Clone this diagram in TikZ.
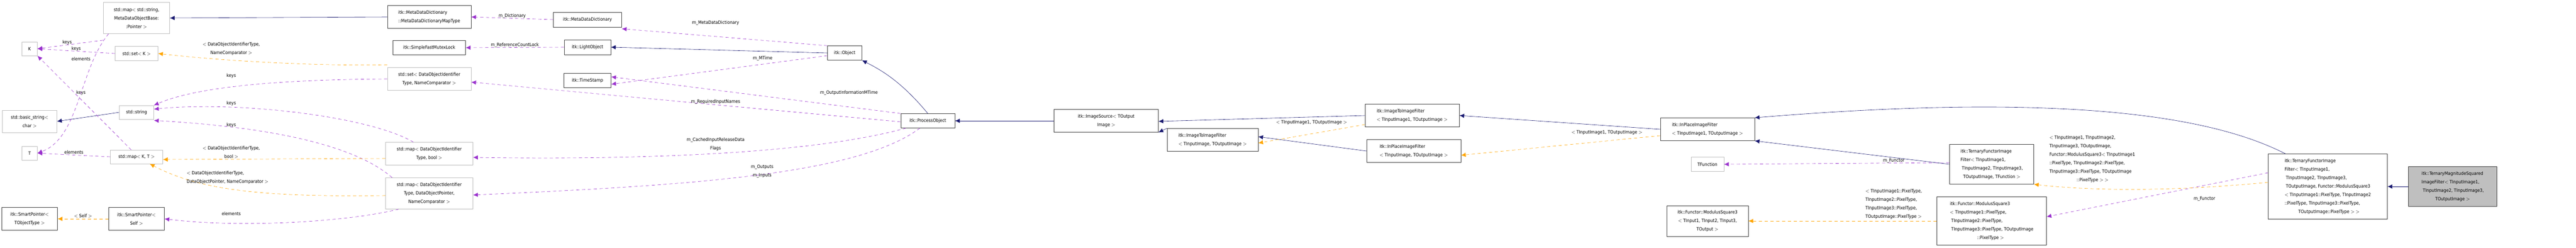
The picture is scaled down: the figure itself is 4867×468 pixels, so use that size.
\documentclass[tikz,border=0pt]{standalone}
\usepackage{fontspec}
\setmainfont{DejaVu Sans Condensed}
\usetikzlibrary{arrows.meta}
\definecolor{inherit}{HTML}{191970}
\definecolor{usage}{HTML}{9A32CD}
\definecolor{templ}{HTML}{FFA500}
\definecolor{grayline}{HTML}{BFBFBF}
\tikzset{
	cls/.style={draw=black!75, semithick, inner sep=0pt, font=\fontsize{8.6}{16}\selectfont},
	ext/.style={cls, draw=grayline},
	lbl/.style={inner sep=0pt, font=\fontsize{8.6}{16}\selectfont},
	base/.style={draw=inherit, semithick, -{Latex[length=9pt,width=8pt]}},
	uses/.style={draw=usage, semithick, dash pattern=on 6pt off 5pt, -{Latex[length=9pt,width=8pt]}},
	tmpl/.style={draw=templ, semithick, dash pattern=on 6pt off 5pt, -{Latex[length=9pt,width=8pt]}}
}
\begin{document}
\begin{tikzpicture}[x=1pt, y=-1pt]
	\useasboundingbox (0,0) rectangle (4867,468);

	% left column
	\node[ext, minimum width=29, minimum height=26] (K) at (56,92) {K};
	\node[ext, minimum width=103, minimum height=42, align=center] (basic) at (56,229) {std::basic\_string$<$\\char $>$};
	\node[ext, minimum width=29, minimum height=26] (T) at (56,289) {T};
	\node[cls, minimum width=105, minimum height=43, align=center] (spT) at (56,413) {itk::SmartPointer$<$\\TObjectType $>$};

	% std containers
	\node[ext, minimum width=125, minimum height=59, align=center] (mapSP) at (258,34) {std::map$<$ std::string,\\MetaDataObjectBase:\\:Pointer $>$};
	\node[ext, minimum width=81, minimum height=27] (setK) at (258,101) {std::set$<$ K $>$};
	\node[ext, minimum width=65, minimum height=26] (string) at (258,212) {std::string};
	\node[ext, minimum width=99, minimum height=26] (mapKT) at (258,296) {std::map$<$ K, T $>$};
	\node[cls, minimum width=105, minimum height=43, align=center] (spSelf) at (258,413) {itk::SmartPointer$<$\\Self $>$};

	\node[cls, minimum width=158, minimum height=43, align=left] (mddMap) at (811,32) {itk::MetaDataDictionary\\::MetaDataDictionaryMapType};
	\node[cls, minimum width=137, minimum height=27] (mutex) at (811,90) {itk::SimpleFastMutexLock};
	\node[ext, minimum width=158, minimum height=43, align=center] (setDOI) at (811,149) {std::set$<$ DataObjectIdentifier\\Type, NameComparator $>$};
	\node[ext, minimum width=165, minimum height=43, align=center] (mapBool) at (811,290) {std::map$<$ DataObjectIdentifier\\Type, bool $>$};
	\node[ext, minimum width=165, minimum height=59, align=center] (mapDOP) at (811,365) {std::map$<$ DataObjectIdentifier\\Type, DataObjectPointer,\\NameComparator $>$};

	\node[cls, minimum width=129, minimum height=28] (mdd) at (1110,37) {itk::MetaDataDictionary};
	\node[cls, minimum width=88, minimum height=28] (light) at (1110,89) {itk::LightObject};
	\node[cls, minimum width=89, minimum height=27] (stamp) at (1110,152) {itk::TimeStamp};

	% pipeline
	\node[cls, minimum width=65, minimum height=27] (object) at (1596,100) {itk::Object};
	\node[cls, minimum width=102, minimum height=27] (process) at (1753,228) {itk::ProcessObject};
	\node[cls, minimum width=197, minimum height=43, align=center] (source) at (2090,228) {itk::ImageSource$<$ TOutput\\Image $>$};
	\node[cls, minimum width=172, minimum height=43, align=left] (i2i) at (2291,264) {itk::ImageToImageFilter\\$<$ TInputImage, TOutputImage $>$};
	\node[cls, minimum width=178, minimum height=43, align=left] (i2iOne) at (2668,218) {itk::ImageToImageFilter\\$<$ TInputImage1, TOutputImage $>$};
	\node[cls, minimum width=178, minimum height=43, align=left] (inplace) at (2671,285) {itk::InPlaceImageFilter\\$<$ TInputImage, TOutputImage $>$};
	\node[cls, minimum width=178, minimum height=43, align=left] (inplaceOne) at (3226,244) {itk::InPlaceImageFilter\\$<$ TInputImage1, TOutputImage $>$};
	\node[ext, minimum width=62, minimum height=27] (tfunc) at (3226,310) {TFunction};
	\node[cls, minimum width=154, minimum height=58, align=center] (modsq) at (3226,417) {itk::Functor::ModulusSquare3\\$<$ TInput1, TInput2, TInput3,\\TOutput $>$};
	\node[cls, minimum width=159, minimum height=75, align=left] (ternary) at (3763,310) {itk::TernaryFunctorImage\\Filter$<$ TInputImage1,\\\ TInputImage2, TInputImage3,\\\ \ TOutputImage, TFunction $>$};
	\node[cls, minimum width=207, minimum height=91, align=left] (modsqPix) at (3763,417) {itk::Functor::ModulusSquare3\\$<$ TInputImage1::PixelType,\\\ TInputImage2::PixelType,\\\ TInputImage3::PixelType, TOutputImage\\\hspace{6em}::PixelType $>$};
	\node[cls, minimum width=225, minimum height=123, align=left] (ternaryMod) at (4398,352) {itk::TernaryFunctorImage\\Filter$<$ TInputImage1,\\\ TInputImage2, TInputImage3,\\\ TOutputImage, Functor::ModulusSquare3\\$<$ TInputImage1::PixelType, TInputImage2\\::PixelType, TInputImage3::PixelType,\\\hspace{3em}TOutputImage::PixelType $>$ $>$};
	\node[cls, fill=black!25, minimum width=167, minimum height=75, align=left] (magsq) at (4634,352) {itk::TernaryMagnitudeSquared\\ImageFilter$<$ TInputImage1,\\\ TInputImage2, TInputImage3,\\\hspace{3em}TOutputImage $>$};

	% inheritance
	\draw[base] (mddMap.west) -- (mapSP.east);
	\draw[base] (string.west) -- (basic.east);
	\draw[base] (object.west) -- (light.east);
	\draw[base] (process.north) .. controls (1700,150) and (1660,130) .. (object.south east);
	\draw[base] (source.west) -- (process.east);
	\draw[base] (i2iOne.west) -- ([yshift=-1pt]source.east);
	\draw[base] (i2i.north west) -- (source.south east);
	\draw[base] (inplace.west) -- ([yshift=6pt]i2i.east);
	\draw[base] (inplaceOne.west) -- (i2iOne.east);
	\draw[base] (ternary.west) -- (inplaceOne.south east);
	\draw[base] ([xshift=-80pt]ternaryMod.north) .. controls (4200,230) and (3950,170) .. (inplaceOne.north east);
	\draw[base] (magsq.west) -- (ternaryMod.east);

	% usage
	\draw[uses] ([yshift=-12pt]mapSP.south west) -- (K.east) node[lbl, pos=0.55, above] (kA) {keys};
	\draw[uses] (setK.west) -- (K.east) node[lbl, pos=0.5, above] (kB) {keys};
	\draw[uses] ([xshift=-10pt]mapKT.north) -- (K.south east);
	\node[lbl] (kC) at (153,175) {keys};
	\draw[uses] ([xshift=10pt]mapSP.south west) .. controls (150,130) and (150,260) .. (T.east);
	\node[lbl] (eA) at (153,111) {elements};
	\draw[uses] (mapKT.west) -- (T.east) node[lbl, pos=0.5, above=2pt] (eB) {elements};
	\draw[uses] (setDOI.west) .. controls (560,150) and (380,160) .. (string.north east);
	\node[lbl] (kD) at (437,143) {keys};
	\draw[uses] ([xshift=-30pt]mapBool.north) .. controls (700,220) and (450,190) .. ([yshift=6pt]string.east);
	\node[lbl] (kE) at (437,195) {keys};
	\draw[uses] ([xshift=-70pt]mapDOP.north) .. controls (700,300) and (600,245) .. ([yshift=-2pt]string.south east);
	\node[lbl] (kF) at (437,236) {keys};
	\draw[uses] ([xshift=25pt]mapDOP.south west) .. controls (650,420) and (450,430) .. (spSelf.east);
	\node[lbl] (eC) at (437,403) {elements};
	\draw[uses] (mdd.west) -- (mddMap.east) node[lbl, pos=0.5, above] (lDict) {m\_Dictionary};
	\draw[uses] (object.north west) -- ([yshift=-3pt]mdd.south east);
	\node[lbl] (lMeta) at (1352,43) {m\_MetaDataDictionary};
	\draw[uses] (light.west) -- (mutex.east) node[lbl, pos=0.5, above] (lLock) {m\_ReferenceCountLock};
	\draw[uses] ([yshift=-5pt]object.west) -- ([yshift=-7pt]stamp.east);
	\node[lbl] (lMTime) at (1441,110) {m\_MTime};
	\draw[uses] (process.north west) -- ([yshift=7pt]stamp.east);
	\node[lbl] (lOut) at (1604,175) {m\_OutputInformationMTime};
	\draw[uses] ([yshift=-2pt]process.west) -- ([yshift=-6pt]setDOI.east);
	\node[lbl] (lReq) at (1352,192) {m\_RequiredInputNames};
	\draw[uses] ([xshift=10pt]process.south west) .. controls (1500,300) and (1100,300) .. ([yshift=-7pt]mapBool.east);
	\node[lbl, align=center] (lCache) at (1352,272) {m\_CachedInputReleaseData\\Flags};
	\draw[uses] ([xshift=-15pt]process.south) .. controls (1620,330) and (1300,350) .. ([yshift=-3pt]mapDOP.east);
	\node[lbl, align=center] (lIO) at (1440,323) {m\_Outputs\\m\_Inputs};
	\draw[uses] ([yshift=3pt]ternary.west) -- (tfunc.east);
	\node[lbl] (lFuncA) at (3578,303) {m\_Functor};
	\draw[uses] ([yshift=26pt]ternaryMod.west) -- ([yshift=8pt]modsqPix.east);
	\node[lbl] (lFuncB) at (4165,375) {m\_Functor};

	% template instances
	\draw[tmpl] ([yshift=5pt]setDOI.north west) .. controls (600,125) and (420,115) .. (setK.east);
	\node[lbl, align=center] (tA) at (437,92) {$<$ DataObjectIdentifierType,\\NameComparator $>$};
	\draw[tmpl] ([yshift=-9pt]mapBool.west) -- ([yshift=-5pt]mapKT.east);
	\node[lbl, align=center] (tB) at (437,287) {$<$ DataObjectIdentifierType,\\bool $>$};
	\draw[tmpl] ([yshift=-4pt]mapDOP.west) .. controls (500,372) and (380,360) .. ([xshift=25pt]mapKT.south);
	\node[lbl, align=left] (tC) at (430,335) {$<$ DataObjectIdentifierType,\\DataObjectPointer, NameComparator $>$};
	\draw[tmpl] (spSelf.west) -- (spT.east) node[lbl, pos=0.5, above=2pt] (tD) {$<$ Self $>$};
	\draw[tmpl] ([yshift=-17pt]i2iOne.west) -- ([yshift=-6pt]i2i.east);
	\node[lbl] (tE) at (2478,231) {$<$ TInputImage1, TOutputImage $>$};
	\draw[tmpl] ([yshift=-12pt]inplaceOne.west) -- ([yshift=-8pt]inplace.east);
	\node[lbl] (tF) at (3036,250) {$<$ TInputImage1, TOutputImage $>$};
	\draw[tmpl] (modsqPix.west) -- (modsq.east);
	\node[lbl, align=left] (tG) at (3578,385) {$<$ TInputImage1::PixelType,\\TInputImage2::PixelType,\\TInputImage3::PixelType,\\TOutputImage::PixelType $>$};
	\draw[tmpl] ([yshift=8pt]ternaryMod.west) .. controls (4100,362) and (3950,360) .. (ternary.south east);
	\node[lbl, align=left] (tH) at (3953,300) {$<$ TInputImage1, TInputImage2,\\TInputImage3, TOutputImage,\\Functor::ModulusSquare3$<$ TInputImage1\\::PixelType, TInputImage2::PixelType,\\TInputImage3::PixelType, TOutputImage\\\hspace{6em}::PixelType $>$ $>$};
\end{tikzpicture}
\end{document}
